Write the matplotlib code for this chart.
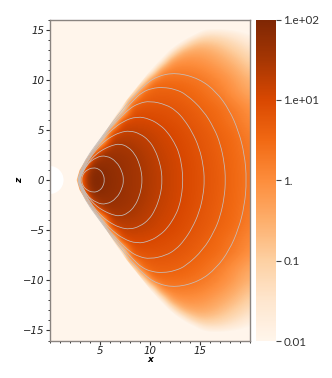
import numpy as np
import matplotlib
matplotlib.use("Agg")
import matplotlib.pyplot as plt
from matplotlib.patches import Circle, Polygon, PathPatch
from matplotlib.path import Path
from matplotlib.colors import Normalize
from matplotlib.cm import ScalarMappable
from matplotlib.ticker import MultipleLocator

# log10 density, upper half; columns x = 0..20, rows z = 0..16 (mirrored about z=0)
row_z0  = [-3,-3,-3,.5,1.97,1.92,1.79,1.70,1.60,1.49,1.38,1.27,1.15,1.05,.95,.86,.76,.66,.55,.44,.33]
row_z1  = [-3,-3,-3,.2,1.88,1.87,1.77,1.69,1.58,1.49,1.37,1.25,1.14,1.04,.95,.85,.75,.65,.55,.42,.30]
row_z2  = [-3,-3,-3,-3,1.50,1.72,1.71,1.65,1.59,1.46,1.35,1.22,1.13,1.03,.94,.84,.74,.64,.54,.42,.30]
row_z3  = [-3,-3,-3,-3,-1.0,1.40,1.57,1.57,1.50,1.40,1.29,1.18,1.10,1.00,.91,.81,.71,.62,.52,.39,.25]
row_z4  = [-3,-3,-3,-3,-3,-1.5,1.30,1.39,1.38,1.31,1.24,1.13,1.05,.97,.88,.78,.69,.60,.50,.37,.22]
row_z5  = [-3,-3,-3,-3,-3,-3,.60,1.15,1.20,1.19,1.14,1.07,1.00,.92,.83,.74,.65,.54,.45,.30,.13]
row_z6  = [-3,-3,-3,-3,-3,-3,-3,.95,1.02,1.03,1.00,.95,.90,.84,.76,.67,.58,.48,.33,.20,.03]
row_z7  = [-3,-3,-3,-3,-3,-3,-3,-2,.78,.87,.88,.87,.84,.77,.69,.62,.53,.43,.30,.13,-.05]
row_z8  = [-3,-3,-3,-3,-3,-3,-3,-3,.20,.63,.70,.72,.70,.67,.61,.52,.42,.30,.12,-.05,-.25]
row_z9  = [-3,-3,-3,-3,-3,-3,-3,-3,-3,.30,.59,.62,.62,.59,.50,.42,.30,.15,-.05,-.25,-.45]
row_z10 = [-3,-3,-3,-3,-3,-3,-3,-3,-3,-2.5,.30,.42,.43,.42,.38,.30,.18,.02,-.15,-.40,-.60]
row_z11 = [-3,-3,-3,-3,-3,-3,-3,-3,-3,-3,-2.5,.0,.17,.18,.16,.10,-.02,-.17,-.37,-.62,-.85]
row_z12 = [-3,-3,-3,-3,-3,-3,-3,-3,-3,-3,-3,-2.2,-.30,-.10,-.08,-.13,-.25,-.42,-.62,-.85,-1.1]
row_z13 = [-3,-3,-3,-3,-3,-3,-3,-3,-3,-3,-3,-3,-2,-.70,-.45,-.42,-.52,-.70,-.92,-1.15,-1.4]
row_z14 = [-3,-3,-3,-3,-3,-3,-3,-3,-3,-3,-3,-3,-3,-2.4,-1.3,-.95,-.98,-1.1,-1.3,-1.5,-1.75]
row_z15 = [-3,-3,-3,-3,-3,-3,-3,-3,-3,-3,-3,-3,-3,-3,-3,-2.0,-1.75,-1.75,-1.85,-2.0,-2.2]
row_z16 = [-3]*21

# sharp cone edge of the torus, upper half
edge_x = [2.7,3.0,3.6,4.3,5.0,5.7,6.3,7.0,7.7,8.5,9.3,10.1,11.0,12.0,13.2,14.0,20.0,20.0]
edge_z = [0.0,1.0,2.0,3.0,4.0,5.0,6.0,7.0,8.0,9.0,10.0,11.0,12.0,13.0,14.0,16.0,16.0,0.0]

# iso-lines, upper half
c1_x = [3.18,3.3,3.7,4.33,4.95,5.35,5.48]
c1_z = [0,.55,1.0,1.25,1.1,.62,0]
c2_x = [3.0,3.2,3.67,4.67,5.67,6.67,7.25,7.38]
c2_z = [0,.5,1.5,2.3,2.45,1.85,.8,0]
c3_x = [2.95,3.2,3.9,4.6,5.33,6.2,7.0,7.8,8.5,8.95,9.18,9.2]
c3_z = [0,.6,1.8,2.55,3.05,3.45,3.62,3.32,2.6,1.6,.6,0]
c4_x = [2.9,3.2,3.9,4.7,5.4,6.1,7.0,8.0,9.0,9.9,10.5,10.95,11.17,11.18]
c4_z = [0,.7,2.0,3.1,3.8,4.3,4.75,4.92,4.62,3.95,3.0,1.8,.7,0]
c5_x = [2.88,3.2,3.9,4.8,5.5,6.2,7.3,8.7,10.0,11.0,11.7,12.4,12.9,13.2,13.27]
c5_z = [0,.8,2.1,3.4,4.3,5.0,5.85,6.35,6.08,5.48,4.82,3.78,2.7,1.2,0]
c6_x = [2.85,3.2,3.9,4.8,5.5,6.2,7.0,8.0,8.9,10.0,11.6,12.6,13.4,14.2,14.9,15.3,15.42]
c6_z = [0,.9,2.2,3.5,4.5,5.35,6.2,7.15,7.65,7.88,7.52,6.9,6.02,4.78,3.22,1.5,0]
c7_x = [2.83,3.15,3.85,4.8,5.6,6.3,7.0,8.3,9.2,10.2,11.3,12.5,13.6,15.3,16.4,17.0,17.4,17.52]
c7_z = [0,.95,2.3,3.6,4.7,5.6,6.45,7.9,8.75,9.15,9.25,9.05,8.55,6.95,5.12,3.6,1.7,0]
c8_x = [2.8,3.1,3.8,4.8,5.6,6.3,7.0,8.0,9.3,10.67,12.6,14.9,16.6,17.9,18.8,19.4,19.62]
c8_z = [0,1.0,2.4,3.75,4.85,5.8,6.7,7.95,9.35,10.35,10.72,10.1,8.8,6.98,4.9,2.6,0]

cbar_ticks = [-2, -1, 0, 1, 2]
cbar_labels = ["0.01", "0.1", "1.", "1.e+01", "1.e+02"]
x_ticks = [5, 10, 15]
z_ticks = [-15, -10, -5, 0, 5, 10, 15]

W, H = 332, 378
fig = plt.figure(figsize=(W/100, H/100), dpi=100, facecolor="white")
ax = fig.add_axes([49.5/W, 1-340.5/H, 201/W, 321/H], facecolor="#fff5eb")
cax = fig.add_axes([255.5/W, 1-341/H, 20/W, 321.5/H])

upper = np.array([row_z0,row_z1,row_z2,row_z3,row_z4,row_z5,row_z6,row_z7,row_z8,
                  row_z9,row_z10,row_z11,row_z12,row_z13,row_z14,row_z15,row_z16], float)
field = np.vstack([upper[::-1], upper[1:]])   # top row z=+16 ... bottom row z=-16
norm = Normalize(-2, 2)
im = ax.imshow(field, cmap="Oranges", norm=norm, extent=(-.5, 20.5, -16.5, 16.5),
               origin="upper", aspect="auto", interpolation="bicubic",
               interpolation_stage="data")
ex, ez = np.array(edge_x), np.array(edge_z)
poly = Polygon(np.column_stack([np.r_[ex, ex[::-1][1:]], np.r_[ez, -ez[::-1][1:]]]),
               closed=True, transform=ax.transData)
im.set_clip_path(poly)


def smooth_closed(xs, zs):
    """Closed quadratic-Bezier path with the read points as control points."""
    xs, zs = np.array(xs, float), np.array(zs, float)
    px = np.r_[xs, xs[::-1][1:-1]]
    pz = np.r_[zs, -zs[::-1][1:-1]]
    pts = np.column_stack([px, pz])
    mids = (pts + np.roll(pts, -1, axis=0)) / 2
    verts = [mids[-1]]
    codes = [Path.MOVETO]
    for p, m in zip(pts, mids):
        verts += [p, m]
        codes += [Path.CURVE3, Path.CURVE3]
    return Path(verts, codes)


for cx, cz in [(c1_x,c1_z),(c2_x,c2_z),(c3_x,c3_z),(c4_x,c4_z),
               (c5_x,c5_z),(c6_x,c6_z),(c7_x,c7_z),(c8_x,c8_z)]:
    ax.add_patch(PathPatch(smooth_closed(cx, cz), fc="none", ec="#c4bebc", lw=0.55, zorder=3))

ax.add_patch(Circle((0, 0), 1.4, fc="white", ec="none", zorder=4))
ax.set_xlim(0, 20)
ax.set_ylim(-16, 16)

tickfont = dict(family="DejaVu Sans", style="oblique", size=7.3, color="#222222")
ax.set_xticks(x_ticks)
ax.set_yticks(z_ticks)
ax.set_xticklabels([str(v) for v in x_ticks], **tickfont)
ax.set_yticklabels([str(v).replace("-", "\u2212") for v in z_ticks], **tickfont)
ax.xaxis.set_minor_locator(MultipleLocator(1))
ax.yaxis.set_minor_locator(MultipleLocator(1))
ax.tick_params(which="major", length=2.6, width=0.8, color="#333333", pad=1)
ax.tick_params(which="minor", length=1.6, width=0.7, color="#333333")
ax.set_xlabel("x", family="DejaVu Sans", style="oblique", weight="bold", size=6.5, labelpad=-0.5)
ax.set_ylabel("z", family="DejaVu Sans", style="oblique", weight="bold", size=6.5, labelpad=-1)
for s in ax.spines.values():
    s.set_color("#8a8480")
    s.set_linewidth(1.0)
    s.set_zorder(6)

cb = fig.colorbar(ScalarMappable(norm=norm, cmap="Oranges"), cax=cax)
cb.set_ticks(cbar_ticks)
cb.set_ticklabels(cbar_labels)
cb.outline.set_visible(False)
cax.tick_params(length=3.5, width=0.8, color="#444444", pad=2, labelsize=8.4, labelcolor="#333333")
for t in cax.get_yticklabels():
    t.set_family("Lato")

fig.savefig("out.png", dpi=100)
